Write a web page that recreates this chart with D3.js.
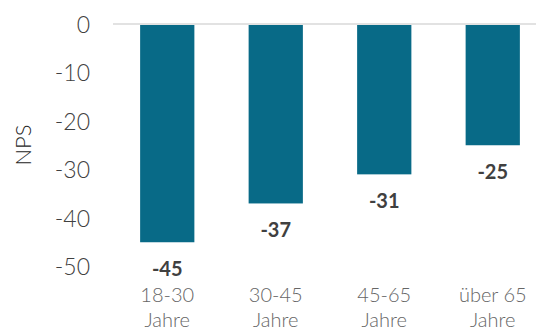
<!DOCTYPE html>
<html><head><meta charset="utf-8">
<script src="https://cdn.jsdelivr.net/npm/d3@7"></script>
<style>
html,body{margin:0;padding:0;background:#fff;}
svg{display:block;font-family:Lato,"Open Sans",sans-serif;}
</style></head>
<body>
<script>
const categories = [["18-30","Jahre"],["30-45","Jahre"],["45-65","Jahre"],["über 65","Jahre"]];
const values = [-45, -37, -31, -25];
const yTicks = [0, -10, -20, -30, -40, -50];
const yTitle = "NPS";

const W = 536, H = 329;
const svg = d3.select("body").append("svg").attr("width", W).attr("height", H);

const x = d3.scaleBand().domain(d3.range(categories.length)).range([113, 547]).paddingInner(0.5).paddingOuter(0.25);
const y = d3.scaleLinear().domain([0, -50]).range([24, 266.5]);

// zero line
svg.append("line").attr("x1", 113).attr("x2", 547)
  .attr("y1", y(0)).attr("y2", y(0))
  .attr("stroke", "#d9d9d9").attr("stroke-width", 1.5);

// bars
svg.selectAll("rect.bar").data(values).join("rect")
  .attr("class","bar")
  .attr("x", (d,i) => x(i))
  .attr("y", d => y(0) + 1)
  .attr("width", x.bandwidth())
  .attr("height", d => y(d) - y(0) - 1)
  .attr("fill", "#086a87");

// value labels
svg.selectAll("text.val").data(values).join("text")
  .attr("class","val")
  .attr("x", (d,i) => x(i) + x.bandwidth()/2)
  .attr("y", d => y(d) + 34)
  .attr("text-anchor","middle")
  .attr("font-size", 20).attr("font-weight", 700)
  .attr("fill", "#404040")
  .text(d => String(d));

// y axis
const yAxis = d3.axisLeft(y).tickValues(yTicks).tickSize(0).tickPadding(0).tickFormat(d => String(d));
const gy = svg.append("g").attr("transform", "translate(90,0)").call(yAxis);
gy.select(".domain").remove();
gy.selectAll("text").attr("font-size", 23).attr("font-weight", 300)
  .attr("fill", "#404040").attr("font-family", "Lato, sans-serif").attr("dy", "0.35em");

// x labels
const gx = svg.append("g");
categories.forEach((lines, i) => {
  const t = gx.append("text")
    .attr("x", x(i) + x.bandwidth()/2)
    .attr("y", 302)
    .attr("text-anchor","middle")
    .attr("font-size", 20).attr("font-weight", 300)
    .attr("fill", "#666666");
  lines.forEach((l, j) => {
    t.append("tspan").attr("x", x(i) + x.bandwidth()/2).attr("dy", j === 0 ? 0 : 25).text(l);
  });
});

// y title
svg.append("text")
  .attr("transform", "translate(31,145) rotate(-90)")
  .attr("text-anchor","middle")
  .attr("font-size", 22).attr("font-weight", 300)
  .attr("fill", "#262626")
  .text(yTitle);
</script>
</body></html>
